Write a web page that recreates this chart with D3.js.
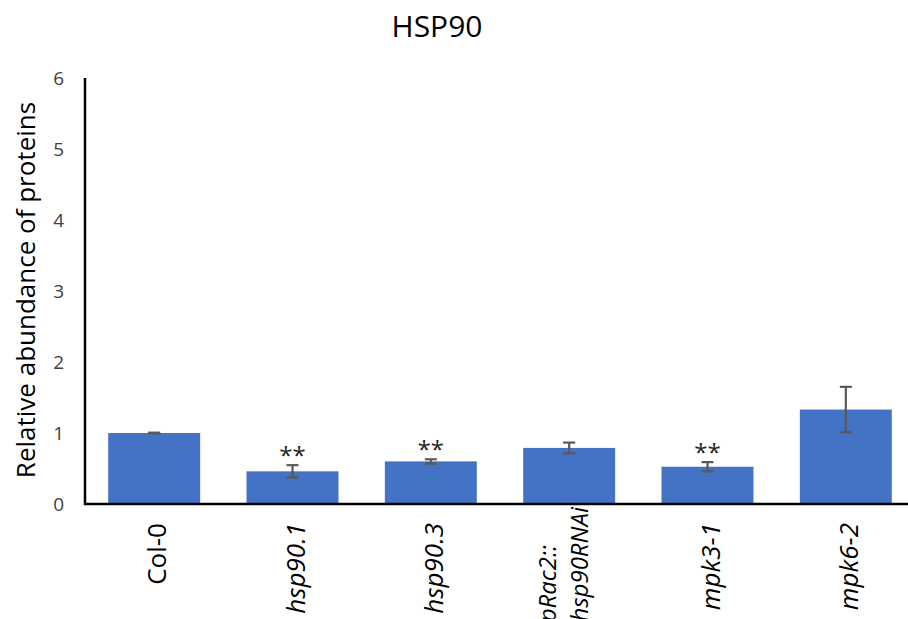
<!DOCTYPE html>
<html>
<head>
<meta charset="utf-8">
<script src="https://cdn.jsdelivr.net/npm/d3@7"></script>
<style>
  body { margin: 0; background: #fff; }
  text { font-family: "Open Sans", "Noto Sans", sans-serif; }
</style>
</head>
<body>
<div id="chart"></div>
<script>
// values
var categories = ["Col-0", "hsp90.1", "hsp90.3", "pRac2::hsp90RNAi", "mpk3-1", "mpk6-2"];
var values = [1.0, 0.46, 0.60, 0.79, 0.525, 1.33];
var errors = [0.005, 0.087, 0.03, 0.075, 0.065, 0.32];
var stars = ["", "**", "**", "", "**", ""];
var yTicks = [0, 1, 2, 3, 4, 5, 6];

var width = 908, height = 619;

var svg = d3.select("#chart")
	.append("svg")
	.attr("width", width)
	.attr("height", height);

var x = d3.scaleBand()
	.domain(categories)
	.range([85, 915])
	.paddingInner(0.335)
	.paddingOuter(0.335 / 2);

var y = d3.scaleLinear()
	.domain([0, 6])
	.range([504, 78]);

// title
svg.append("text")
	.attr("x", 437)
	.attr("y", 37)
	.attr("text-anchor", "middle")
	.style("font-size", "30px")
	.style("fill", "#000")
	.text("HSP90");

// y axis label
svg.append("text")
	.attr("transform", "translate(35,290) rotate(-90)")
	.attr("text-anchor", "middle")
	.style("font-size", "26px")
	.style("fill", "#000")
	.text("Relative abundance of proteins");

// bars
svg.selectAll("rect.bar")
	.data(categories)
	.enter().append("rect")
	.attr("class", "bar")
	.attr("x", function(d) { return x(d); })
	.attr("width", x.bandwidth())
	.attr("y", function(d, i) { return y(values[i]); })
	.attr("height", function(d, i) { return y(0) - y(values[i]); })
	.style("fill", "#4472C4");

// error bars
var errG = svg.append("g")
	.style("stroke", "#595959")
	.style("stroke-width", 2.2);

categories.forEach(function(cat, i) {
	var cx = x(cat) + x.bandwidth() / 2;
	var top = y(values[i] + errors[i]),
		bot = y(values[i] - errors[i]);
	errG.append("line").attr("x1", cx).attr("x2", cx).attr("y1", top).attr("y2", bot);
	errG.append("line").attr("x1", cx - 6).attr("x2", cx + 6).attr("y1", top).attr("y2", top);
	errG.append("line").attr("x1", cx - 6).attr("x2", cx + 6).attr("y1", bot).attr("y2", bot);

	if (stars[i]) {
		svg.append("text")
			.attr("x", cx)
			.attr("y", top - 1)
			.attr("text-anchor", "middle")
			.style("font-size", "24px")
			.style("fill", "#222")
			.text(stars[i]);
	}
});

// axis lines
svg.append("line")
	.attr("x1", 85).attr("x2", 85)
	.attr("y1", y(6)).attr("y2", y(0) + 1)
	.style("stroke", "#000").style("stroke-width", 2.5);
svg.append("line")
	.attr("x1", 84).attr("x2", width)
	.attr("y1", y(0)).attr("y2", y(0))
	.style("stroke", "#000").style("stroke-width", 2.5);

// y tick labels
svg.selectAll("text.ytick")
	.data(yTicks)
	.enter().append("text")
	.attr("class", "ytick")
	.attr("x", 64)
	.attr("y", function(d) { return y(d); })
	.attr("dy", "0.36em")
	.attr("text-anchor", "end")
	.style("font-size", "19px")
	.style("fill", "#404040")
	.text(function(d) { return d; });

// category labels, rotated
categories.forEach(function(cat, i) {
	var cx = x(cat) + x.bandwidth() / 2;
	if (cat.indexOf("::") > 0) {
		var parts = cat.split("::");
		svg.append("text")
			.attr("transform", "translate(" + (cx - 13) + ",545) rotate(-90)")
			.attr("text-anchor", "end")
			.style("font-size", "24px")
			.style("font-style", "italic")
			.style("fill", "#000")
			.text(parts[0] + "::");
		svg.append("text")
			.attr("transform", "translate(" + (cx + 19) + ",507) rotate(-90)")
			.attr("text-anchor", "end")
			.style("font-size", "24px")
			.style("font-style", "italic")
			.style("fill", "#000")
			.text(parts[1]);
	} else {
		svg.append("text")
			.attr("transform", "translate(" + (cx + 12) + ",523) rotate(-90)")
			.attr("text-anchor", "end")
			.style("font-size", "26px")
			.style("font-style", i === 0 ? "normal" : "italic")
			.style("fill", "#000")
			.text(cat);
	}
});
</script>
</body>
</html>
